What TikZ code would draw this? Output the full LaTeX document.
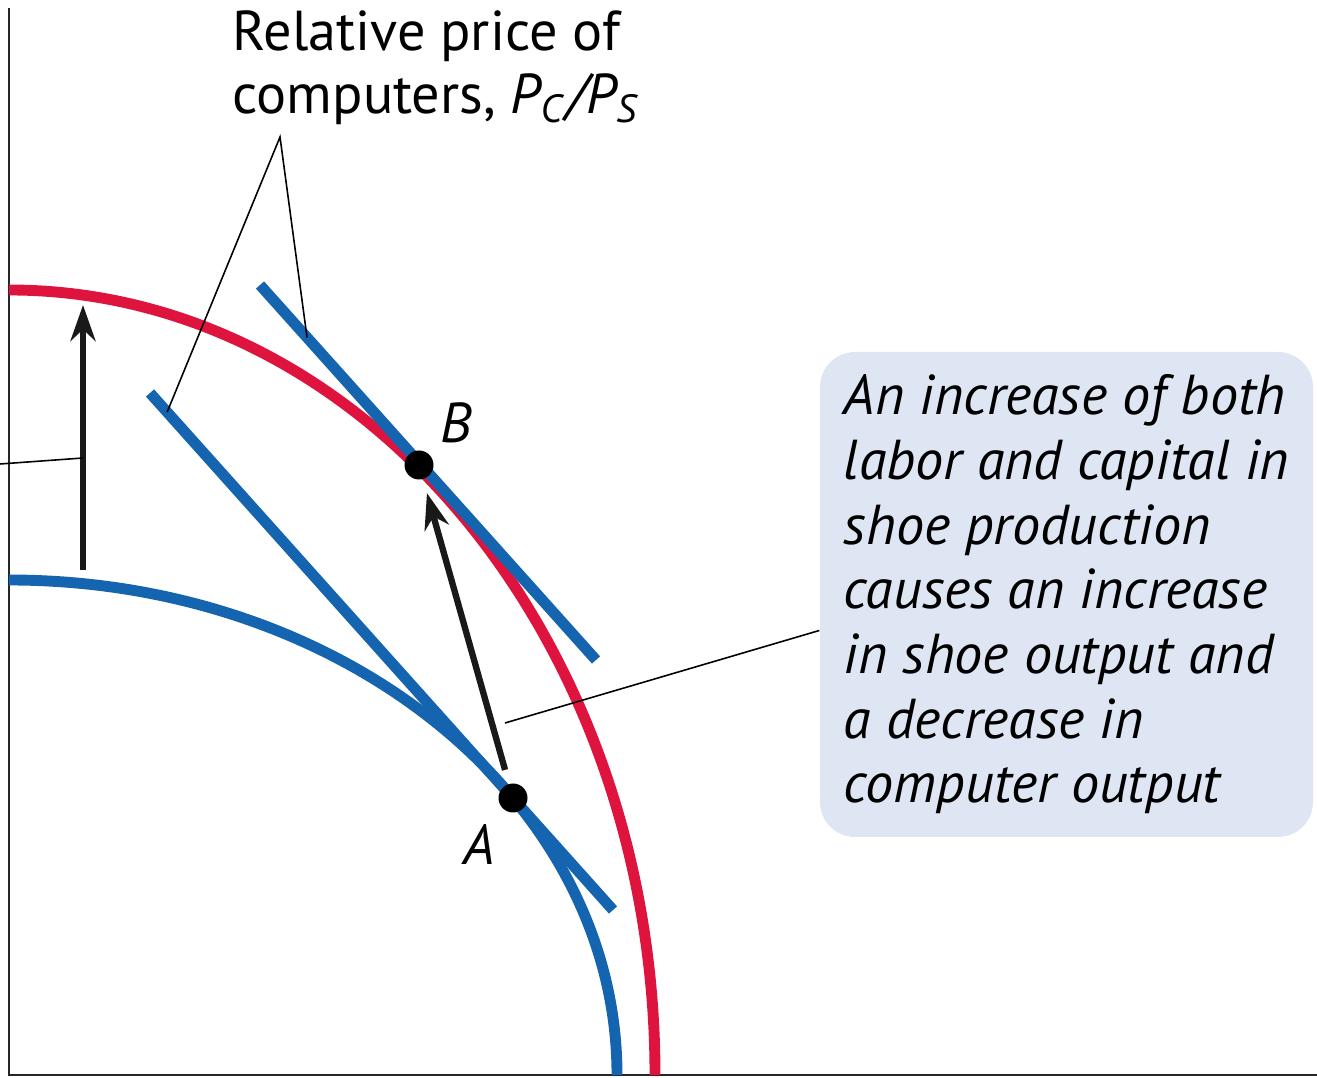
\documentclass[tikz,border=0pt]{standalone}
\usepackage{fontspec}
\setmainfont{PT Sans}
\usepackage{xcolor}
\usepackage{tikz}
\usetikzlibrary{arrows.meta,positioning}

\definecolor{ppfred}{RGB}{222,20,62}
\definecolor{ppfblue}{RGB}{20,100,176}
\definecolor{notefill}{RGB}{223,230,243}

\begin{document}
\begin{tikzpicture}[
		>={Stealth[length=3.6mm,width=2.5mm]},
		font=\fontsize{16}{18.4}\selectfont,
		axis/.style={line width=0.6pt, black!85},
		ppf/.style={line width=3.1pt},
		price/.style={line width=3.1pt, ppfblue},
		move/.style={->, line width=1.8pt, black!90},
		leader/.style={line width=0.45pt},
		dot/.style={circle, fill=black, inner sep=0pt, minimum size=0.29cm},
		pointlbl/.style={inner sep=0pt, font=\fontsize{16}{18}\selectfont\itshape},
		note/.style={fill=notefill, rounded corners=0.35cm, minimum width=4.93cm, minimum height=4.85cm, align=left, font=\fontsize{16}{18.4}\selectfont\itshape}
		]
		\useasboundingbox (-0.09,-0.02) rectangle (13.08,10.75);
		
		% Axes
		\coordinate (O) at (0,0);
		\coordinate (ytop) at (0,10.67);
		\coordinate (xend) at (13.08,0);
		\draw[axis] (ytop) -- (O) -- (xend);
		
		% Frontiers: after the increase (red) and original (blue)
		\draw[ppf, ppfred] (0,7.85) arc[start angle=90, end angle=0, x radius=6.46, y radius=7.85];
		\draw[ppf, ppfblue] (0,4.95) arc[start angle=90, end angle=0, x radius=6.08, y radius=4.95];
		
		% Relative price lines
		\draw[price] (1.41,6.82) -- coordinate[pos=0.037] (tanA) (6.04,1.65);
		\draw[price] (2.51,7.90) -- coordinate[pos=0.14] (tanB) (5.87,4.15);
		
		% Points A and B
		\node[dot] (A) at (5.04,2.77) {};
		\node[dot] (B) at (4.10,6.10) {};
		\node[pointlbl, below left=0.15cm and 0.07cm of A] (Alabel) {A};
		\node[pointlbl, above right=0.11cm and 0.10cm of B] (Blabel) {B};
		
		% Outward shift of the frontier
		\coordinate (shiftlo) at (0.74,5.05);
		\coordinate (shifthi) at (0.74,7.70);
		\coordinate (shiftmid) at (0.74,6.17);
		\coordinate (edge) at (-0.09,6.11);
		\draw[move] (shiftlo) -- (shifthi);
		\draw[leader] (edge) -- (shiftmid);
		
		% Movement from A to B
		\draw[move, shorten <=0.14cm, shorten >=0.14cm] (A) -- (B);
		
		% Price label
		\node[anchor=north west, inner sep=0pt, align=left, font=\fontsize{16}{17.9}\selectfont] (pricelbl) at (2.23,10.65) {Relative price of\\computers, \textit{P\textsubscript{C}\kern1pt/P\textsubscript{S}}};
		\coordinate (apex) at (2.71,9.38);
		\draw[leader] (tanA) -- (apex) -- (tanB);
		
		% Note box
		\node[note] (note) at (10.575,4.805) {An increase of both\\labor and capital in\\shoe production\\causes an increase\\in shoe output and\\a decrease in\\computer output};
		\coordinate (notetip) at (4.96,3.52);
		\draw[leader] ([yshift=-0.36cm]note.west) -- (notetip);
		
	\end{tikzpicture}
\end{document}
